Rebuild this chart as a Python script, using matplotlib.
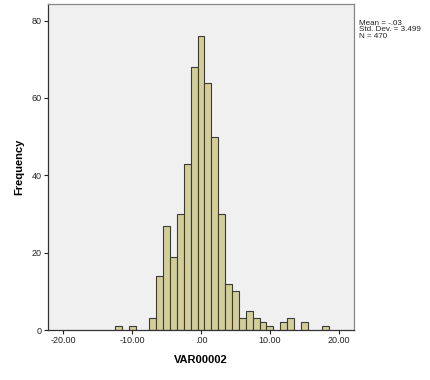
import matplotlib
matplotlib.use("Agg")
import matplotlib.pyplot as plt

# histogram of VAR00002, unit bins centred on integers
bin_centers = [-12, -10, -7, -6, -5, -4, -3, -2, -1, 0, 1, 2, 3, 4, 5, 6, 7, 8, 9, 10, 12, 13, 15, 18]
counts = [1, 1, 3, 14, 27, 19, 30, 43, 68, 76, 64, 50, 30, 12, 10, 3, 5, 3, 2, 1, 2, 3, 2, 1]
x_ticks = [-20, -10, 0, 10, 20]
x_tick_labels = ["-20.00", "-10.00", ".00", "10.00", "20.00"]
y_ticks = [0, 20, 40, 60, 80]
stats_text = "Mean = -.03\nStd. Dev. = 3.499\nN = 470"

plt.rcParams['font.family'] = ['Liberation Sans', 'DejaVu Sans']

fig = plt.figure(figsize=(4.3, 3.8), dpi=100)
ax = fig.add_axes([48 / 430, 1 - 330 / 380, 306 / 430, 326 / 380])
ax.set_facecolor("#f0f0f0")

ax.bar(bin_centers, counts, width=1.0, color="#d3ce97", edgecolor="#3a3a3a", linewidth=0.8)

ax.set_xlim(-22.2, 22.2)
ax.set_ylim(0, 84.3)
ax.set_xticks(x_ticks, x_tick_labels)
ax.set_yticks(y_ticks)
ax.tick_params(axis="both", direction="out", length=3, width=0.8, labelsize=6.5, pad=1.5, colors="#222222")

for side in ["left", "bottom"]:
    ax.spines[side].set_color("#333333")
    ax.spines[side].set_linewidth(0.9)
for side in ["top", "right"]:
    ax.spines[side].set_color("#888888")
    ax.spines[side].set_linewidth(0.9)

ax.set_xlabel("VAR00002", fontsize=8, fontweight="bold", labelpad=7)
ax.set_ylabel("Frequency", fontsize=8, fontweight="bold", labelpad=5)

fig.text(359 / 430, 1 - 20 / 380, stats_text, fontsize=5.8, va="top", ha="left", linespacing=0.85, color="#222222")

fig.savefig("out.png", dpi=100)
